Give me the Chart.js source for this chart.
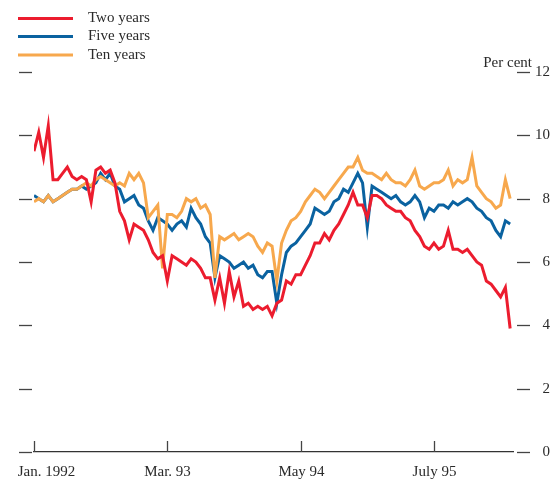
<!DOCTYPE html>
<html>
<head>
<meta charset="utf-8">
<script src="https://cdn.jsdelivr.net/npm/chart.js@4"></script>
<style>
  html, body { margin: 0; padding: 0; background: #ffffff; }
  #wrap { width: 553px; height: 482px; }
</style>
</head>
<body>
<div id="wrap"><canvas id="c" width="553" height="482"></canvas></div>
<script>
// Semi-monthly readings (months since Jan. 1992), per cent
const twoYears = [9.5,10.1,9.3,10.3,8.6,8.6,8.8,9.0,8.7,8.6,8.7,8.6,7.9,8.9,9.0,8.8,8.9,8.5,7.6,7.3,
  6.7,7.2,7.1,7.0,6.7,6.3,6.1,6.2,5.4,6.2,6.1,6.0,5.9,6.1,6.0,5.8,5.5,5.5,4.8,5.5,
  4.7,5.7,4.9,5.4,4.6,4.7,4.5,4.6,4.5,4.6,4.3,4.7,4.8,5.4,5.3,5.6,5.6,5.9,6.2,6.6,
  6.6,6.9,6.7,7.0,7.2,7.5,7.8,8.2,7.8,7.8,7.4,8.1,8.1,8.0,7.8,7.7,7.6,7.6,7.4,7.3,
  7.0,6.8,6.5,6.4,6.6,6.4,6.5,7.0,6.4,6.4,6.3,6.4,6.2,6.0,5.9,5.4,5.3,5.1,4.9,5.2,3.9];
const fiveYears = [8.1,8.0,7.9,8.1,7.9,8.0,8.1,8.2,8.3,8.3,8.4,8.3,8.4,8.5,8.8,8.6,8.8,8.4,8.3,7.9,
  8.0,8.1,7.8,7.7,7.3,7.0,7.4,7.3,7.2,7.0,7.2,7.3,7.1,7.7,7.4,7.2,6.8,6.6,5.5,6.2,
  6.1,6.0,5.8,5.9,6.0,5.8,5.9,5.6,5.5,5.7,5.7,4.7,5.6,6.3,6.5,6.6,6.8,7.0,7.2,7.7,
  7.6,7.5,7.6,7.9,8.0,8.3,8.2,8.5,8.8,8.5,7.1,8.4,8.3,8.2,8.1,8.0,8.1,7.9,7.8,7.9,
  8.1,7.9,7.4,7.7,7.6,7.8,7.8,7.7,7.9,7.8,7.9,8.0,7.9,7.7,7.6,7.4,7.3,7.0,6.8,7.3,7.2];
const tenYears = [7.9,8.0,7.9,8.1,7.9,8.0,8.1,8.2,8.3,8.3,8.4,8.5,8.4,8.6,8.7,8.6,8.5,8.4,8.5,8.4,
  8.8,8.6,8.8,8.5,7.4,7.6,7.8,5.8,7.5,7.5,7.4,7.6,8.0,7.9,8.0,7.7,7.8,7.5,5.5,6.8,
  6.7,6.8,6.9,6.7,6.8,6.9,6.8,6.5,6.3,6.6,6.5,5.4,6.6,7.0,7.3,7.4,7.6,7.9,8.1,8.3,
  8.2,8.0,8.2,8.4,8.6,8.8,9.0,9.0,9.3,8.9,8.8,8.8,8.7,8.6,8.8,8.6,8.5,8.5,8.4,8.6,
  8.9,8.4,8.3,8.4,8.5,8.5,8.6,8.9,8.4,8.6,8.5,8.6,9.3,8.4,8.2,8.0,7.9,7.7,7.8,8.6,8.0];
const seriesNames = ['Two years', 'Five years', 'Ten years'];
const seriesColors = ['#ec1c2e', '#0a62a0', '#f7a84d'];
const xTickValues = [0, 14, 28, 42];
const xTickLabels = ['Jan. 1992', 'Mar. 93', 'May 94', 'July 95'];
const yTickValues = [0, 2, 4, 6, 8, 10, 12];
const monthStep = 0.5;
const xMax = 50.3;

const months = twoYears.map((_, i) => i * monthStep);
const toPts = arr => arr.map((v, i) => ({ x: months[i], y: v }));

const FONT = '"Liberation Serif", "Times New Roman", serif';
const INK = '#2a2a2a';

const decor = {
  id: 'decor',
  afterDraw(chart) {
    const ctx = chart.ctx;
    const xs = chart.scales.x, ys = chart.scales.y;
    const ca = chart.chartArea;
    ctx.save();
    ctx.strokeStyle = '#444';
    ctx.lineWidth = 1.3;
    // left and right dashes
    yTickValues.forEach(v => {
      const y = Math.round(ys.getPixelForValue(v)) + 0.5;
      ctx.beginPath(); ctx.moveTo(19, y); ctx.lineTo(32, y); ctx.stroke();
      ctx.beginPath(); ctx.moveTo(ca.right + 4, y); ctx.lineTo(ca.right + 17, y); ctx.stroke();
    });
    // upward x ticks and their labels
    ctx.fillStyle = INK;
    ctx.font = '15px ' + FONT;
    ctx.textAlign = 'center';
    ctx.textBaseline = 'alphabetic';
    xTickValues.forEach((v, i) => {
      const x = Math.round(xs.getPixelForValue(v)) + 0.5;
      ctx.beginPath(); ctx.moveTo(x, ca.bottom); ctx.lineTo(x, ca.bottom - 11); ctx.stroke();
      const shift = i === 0 ? 12 : 0;
      ctx.fillText(xTickLabels[i], x + shift, ca.bottom + 24);
    });
    // legend
    const ly = [18.5, 36.5, 55];
    seriesNames.forEach((n, i) => {
      ctx.strokeStyle = seriesColors[i];
      ctx.lineWidth = 3;
      ctx.beginPath(); ctx.moveTo(18, ly[i]); ctx.lineTo(73, ly[i]); ctx.stroke();
      ctx.fillStyle = INK;
      ctx.font = '15px ' + FONT;
      ctx.textAlign = 'left';
      ctx.textBaseline = 'middle';
      ctx.fillText(n, 88, ly[i]);
    });
    // unit
    ctx.fillStyle = INK;
    ctx.font = '15px ' + FONT;
    ctx.textAlign = 'right';
    ctx.textBaseline = 'alphabetic';
    ctx.fillText('Per cent', 532, 67);
    ctx.restore();
  }
};

new Chart(document.getElementById('c'), {
  type: 'line',
  data: {
    datasets: [
      { label: seriesNames[0], data: toPts(twoYears), borderColor: seriesColors[0], order: 0 },
      { label: seriesNames[2], data: toPts(tenYears), borderColor: seriesColors[2], order: 1 },
      { label: seriesNames[1], data: toPts(fiveYears), borderColor: seriesColors[1], order: 2 }
    ]
  },
  options: {
    responsive: false,
    animation: false,
    devicePixelRatio: 1,
    layout: { padding: { left: 34, right: 3, top: 72, bottom: 0 } },
    elements: {
      line: { borderWidth: 3, tension: 0, borderJoinStyle: 'miter', borderCapStyle: 'butt' },
      point: { radius: 0, hoverRadius: 0 }
    },
    plugins: { legend: { display: false }, tooltip: { enabled: false } },
    scales: {
      x: {
        type: 'linear',
        min: 0, max: xMax,
        afterBuildTicks: s => { s.ticks = xTickValues.map(v => ({ value: v })); },
        afterFit: s => { s.height = 30; },
        grid: { display: false, drawTicks: false },
        border: { display: true, color: '#333', width: 1.3 },
        ticks: { display: false }
      },
      y: {
        position: 'right',
        min: 0, max: 12,
        afterBuildTicks: s => { s.ticks = yTickValues.map(v => ({ value: v })); },
        afterFit: s => { s.width = 37; },
        grid: { display: false, drawTicks: false },
        border: { display: false },
        ticks: {
          crossAlign: 'far', padding: 0, color: INK,
          font: { family: FONT, size: 15 }
        }
      }
    }
  },
  plugins: [decor]
});
</script>
</body>
</html>
